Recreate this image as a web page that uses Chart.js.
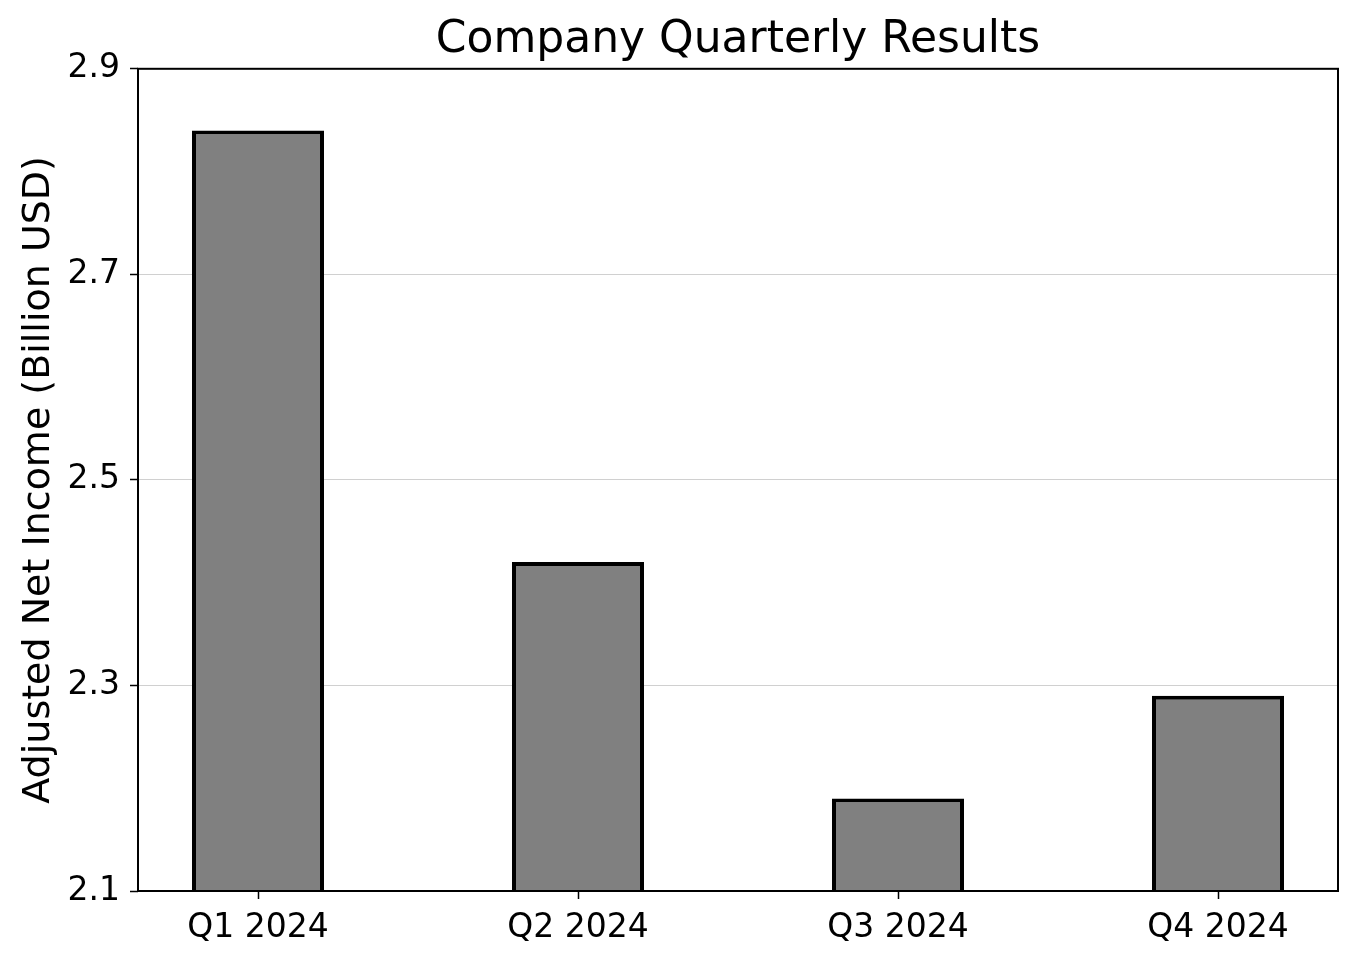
<!DOCTYPE html>
<html>
<head>
<meta charset="utf-8">
<script src="https://cdn.jsdelivr.net/npm/chart.js@4/dist/chart.umd.min.js"></script>
<style>
html,body{margin:0;padding:0;background:#fff;}
#wrap{width:1358px;height:963px;}
</style>
</head>
<body>
<div id="wrap"><canvas id="c" width="1358" height="963"></canvas></div>
<script>
const categories = ["Q1 2024", "Q2 2024", "Q3 2024", "Q4 2024"];
const netIncome = [2.84, 2.42, 2.19, 2.29];
const yTicks = [2.1, 2.3, 2.5, 2.7, 2.9];
const titleText = "Company Quarterly Results";
const yAxisTitle = "Adjusted Net Income (Billion USD)";

Chart.defaults.font.family = "'DejaVu Sans', sans-serif";
Chart.defaults.color = "#000";

const framePlugin = {
  id: 'frame',
  afterDatasetsDraw(chart) {
    const a = chart.chartArea, ctx = chart.ctx;
    ctx.save();
    ctx.strokeStyle = '#000';
    ctx.lineWidth = 2;
    ctx.strokeRect(a.left, a.top, a.right - a.left, a.bottom - a.top);
    ctx.restore();
  }
};

new Chart(document.getElementById('c'), {
  type: 'bar',
  data: {
    datasets: [{
      data: netIncome.map((v, i) => ({x: i, y: v})),
      backgroundColor: '#808080',
      borderColor: '#000',
      borderWidth: 4,
      borderSkipped: false,
      barPercentage: 0.4125,
      categoryPercentage: 1.0
    }]
  },
  options: {
    responsive: false,
    animation: false,
    devicePixelRatio: 1,
    layout: {padding: {left: 0, right: 20, top: 0, bottom: 0}},
    plugins: {
      legend: {display: false},
      tooltip: {enabled: false},
      title: {
        display: true,
        fullSize: false,
        text: titleText,
        color: '#000',
        font: {size: 44, weight: 'normal', lineHeight: 1.2},
        padding: {top: 14, bottom: 2}
      }
    },
    scales: {
      x: {
        type: 'linear',
        offset: false,
        min: -0.375,
        max: 3.375,
        afterBuildTicks(scale) { scale.ticks = categories.map((_, i) => ({value: i})); },
        afterFit(scale) { scale.height = 72; },
        grid: {offset: false, drawOnChartArea: false, drawTicks: true, tickLength: 8, tickColor: '#000', tickWidth: 1.5, color: '#000'},
        border: {display: false},
        ticks: {
          font: {size: 33},
          padding: 10,
          maxRotation: 0,
          autoSkip: false,
          callback: (v) => categories[v] ?? ''
        }
      },
      y: {
        type: 'linear',
        min: yTicks[0],
        max: yTicks[yTicks.length - 1],
        afterBuildTicks(scale) { scale.ticks = yTicks.map(v => ({value: v})); },
        afterFit(scale) { scale.width = 138; },
        grid: {
          drawTicks: true,
          tickLength: 8,
          tickColor: '#000',
          tickWidth: 1.5,
          lineWidth: 1,
          color: (ctx) => {
            const v = ctx.tick ? ctx.tick.value : null;
            if (v === null) return 'rgba(0,0,0,0)';
            if (Math.abs(v - yTicks[0]) < 1e-9 || Math.abs(v - yTicks[yTicks.length - 1]) < 1e-9) return 'rgba(0,0,0,0)';
            return '#d0d0d0';
          }
        },
        border: {display: false},
        ticks: {
          font: {size: 33},
          padding: 10,
          callback: (v) => Number(v).toFixed(1)
        },
        title: {
          display: true,
          text: yAxisTitle,
          color: '#000',
          font: {size: 38, weight: 'normal', lineHeight: 1.2},
          padding: {top: 16, bottom: 0}
        }
      }
    }
  },
  plugins: [framePlugin]
});
</script>
</body>
</html>
